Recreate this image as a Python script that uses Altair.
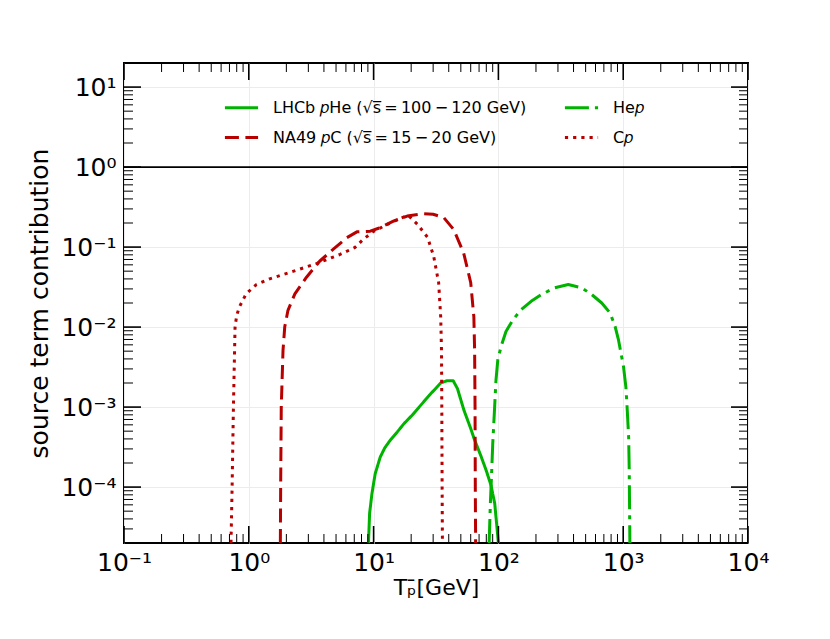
import math
import altair as alt
import pandas as pd

# ---------------- data ----------------
# LHCb pHe  (green solid)
lhcb_T = [9.1, 9.29, 9.7, 10.3, 11.3, 12.3, 13.6, 15.5, 17.5, 20.5, 23.8, 28.5, 34.5, 39.0, 43.4, 47.0, 53.0, 60.0, 64.0, 72.8, 80.0, 87.3, 93.5, 100.0]
lhcb_v = [2e-5, 4.7e-5, 8.3e-5, 1.47e-4, 2.37e-4, 3.1e-4, 3.85e-4, 4.9e-4, 6.2e-4, 8.0e-4, 1.05e-3, 1.45e-3, 2.0e-3, 2.14e-3, 2.14e-3, 1.7e-3, 9.1e-4, 5.4e-4, 4.0e-4, 2.4e-4, 1.6e-4, 1.05e-4, 6.2e-5, 2e-5]

# NA49 pC  (red dashed)
na49_T = [1.79, 1.80, 1.82, 1.88, 1.94, 2.06, 2.34, 2.9, 3.71, 4.76, 6.1, 7.35, 9.4, 11.3, 14.4, 18.6, 25.0, 30.0, 36.5, 43.8, 52.6, 60.0, 63.6, 64.5, 65.0, 65.3, 65.7]
na49_v = [2e-5, 1e-4, 1e-3, 0.0051, 0.01, 0.0162, 0.026, 0.042, 0.067, 0.094, 0.131, 0.155, 0.158, 0.175, 0.211, 0.244, 0.261, 0.257, 0.234, 0.166, 0.085, 0.036, 0.0133, 0.005, 1e-3, 1e-4, 2e-5]

# He p  (green dash-dot)
hep_T = [84.3, 86.2, 88.4, 90.1, 93.0, 95.6, 98.9, 105, 115, 130.6, 152, 183, 221, 283, 363, 465, 560, 673, 786, 861, 917, 1006, 1051, 1071, 1106, 1118, 1124, 1131]
hep_v = [2e-5, 6.2e-5, 1.6e-4, 3.5e-4, 9.1e-4, 2.16e-3, 3.9e-3, 5.7e-3, 8.8e-3, 0.0123, 0.0165, 0.021, 0.0255, 0.031, 0.034, 0.031, 0.0255, 0.020, 0.015, 0.0102, 0.0069, 0.0032, 1.78e-3, 1.1e-3, 4.2e-4, 1.6e-4, 6.2e-5, 2e-5]

# C p  (red dotted)
cp_T = [0.72, 0.735, 0.753, 0.776, 0.80, 0.84, 0.90, 0.953, 1.05, 1.15, 1.47, 2.26, 3.52, 5.39, 7.1, 8.26, 10.0, 12.9, 16.4, 19.0, 22.5, 27.1, 30.3, 33.2, 34.5, 35.0, 35.2, 35.4, 35.6]
cp_v = [2e-5, 1e-4, 1e-3, 0.01, 0.014, 0.0178, 0.022, 0.026, 0.030, 0.034, 0.040, 0.0497, 0.0625, 0.081, 0.099, 0.125, 0.157, 0.192, 0.229, 0.249, 0.192, 0.132, 0.0766, 0.036, 0.0133, 0.0051, 1e-3, 1e-4, 2e-5]

# legend names (Vega fills the two legend columns column by column)
name_lhcb = "LHCb \U0001D45DHe (\u221As\u0305\u2009=\u2009100\u2009\u2212\u2009120  GeV)"
name_na49 = "NA49 \U0001D45DC (\u221As\u0305\u2009=\u200915\u2009\u2212\u200920  GeV)"
name_hep = "He\U0001D45D"
name_cp = "C\U0001D45D"
series_names = [name_lhcb, name_na49, name_hep, name_cp]
series_colors = ["#00b300", "#b80000", "#00b300", "#b80000"]
series_dash = [[1, 0], [14, 6.5], [24, 6, 4, 6], [3.2, 5]]

x_tick_values = [0.1, 1, 10, 100, 1000, 10000]
x_tick_labels = ["10\u207b\u00b9", "10\u2070", "10\u00b9", "10\u00b2", "10\u00b3", "10\u2074"]
y_tick_values = [1e-4, 1e-3, 1e-2, 1e-1, 1, 10]
y_tick_labels = ["10\u207b\u2074", "10\u207b\u00b3", "10\u207b\u00b2", "10\u207b\u00b9", "10\u2070", "10\u00b9"]

x_minor = [m * 10.0 ** e for e in range(-1, 4) for m in range(2, 10)]
y_minor = [m * 10.0 ** e for e in range(-5, 2) for m in range(2, 10) if 2e-5 <= m * 10.0 ** e < 20]

W, H = 624, 480
FONT = "DejaVu Sans"

rows = []
for name, xs, ys in [(name_lhcb, lhcb_T, lhcb_v), (name_na49, na49_T, na49_v),
                     (name_hep, hep_T, hep_v), (name_cp, cp_T, cp_v)]:
    for i, (a, b) in enumerate(zip(xs, ys)):
        rows.append({"T": a, "v": b, "series": name, "idx": i})
df = pd.DataFrame(rows)


def label_expr(vals, labels):
    e = "round(log(datum.value)/LN10)"
    parts = ""
    for v, l in zip(vals, labels):
        parts += f"{e} == {round(math.log10(v))} ? '{l}' : "
    return parts + "''"


xscale = alt.Scale(type="log", domain=[0.1, 1e4])
yscale = alt.Scale(type="log", domain=[2e-5, 20])

xaxis = alt.Axis(
    values=x_tick_values, labelExpr=label_expr(x_tick_values, x_tick_labels),
    title="T\u209a\u0304[GeV]", ticks=False, domain=False, grid=True,
    gridColor="#ececec", gridWidth=1, labelFontSize=25, labelPadding=7,
    labelFlush=False, labelOverlap=False, labelBound=False,
    titleFontSize=22, titleFontWeight="normal", titlePadding=2)
yaxis = alt.Axis(
    values=y_tick_values, labelExpr=label_expr(y_tick_values, y_tick_labels),
    title="source term contribution", ticks=False, domain=False, grid=True,
    gridColor="#ececec", gridWidth=1, labelFontSize=25, labelPadding=8,
    labelFlush=False, labelOverlap=False, labelBound=False,
    titleFontSize=25, titleFontWeight="normal", titlePadding=8)

leg = alt.Legend(
    title=None, orient="none", legendX=99, legendY=26, columns=2,
    columnPadding=26, rowPadding=3, symbolType="stroke", symbolStrokeWidth=3,
    symbolSize=1100, labelFontSize=16, labelFont=FONT, labelLimit=500,
    labelOffset=13, padding=0, labelColor="black",
)

curves = alt.Chart(df).mark_line(strokeWidth=3, clip=True, strokeJoin="round").encode(
    x=alt.X("T:Q", scale=xscale, axis=xaxis),
    y=alt.Y("v:Q", scale=yscale, axis=yaxis),
    color=alt.Color("series:N", scale=alt.Scale(domain=series_names, range=series_colors), legend=leg),
    strokeDash=alt.StrokeDash("series:N", scale=alt.Scale(domain=series_names, range=series_dash), legend=leg),
    order="idx:Q",
)

unity = alt.Chart(pd.DataFrame({"v": [1.0]})).mark_rule(color="black", strokeWidth=1.8).encode(
    y=alt.Y("v:Q", scale=yscale, axis=yaxis))


def xticks(vals, length, width, top):
    c = alt.Chart(pd.DataFrame({"T": vals})).mark_rule(color="black", strokeWidth=width)
    if top:
        return c.encode(x=alt.X("T:Q", scale=xscale, axis=xaxis), y=alt.value(0), y2=alt.value(length))
    return c.encode(x=alt.X("T:Q", scale=xscale, axis=xaxis), y=alt.value(H), y2=alt.value(H - length))


def yticks(vals, length, width, right):
    c = alt.Chart(pd.DataFrame({"v": vals})).mark_rule(color="black", strokeWidth=width)
    if right:
        return c.encode(y=alt.Y("v:Q", scale=yscale, axis=yaxis), x=alt.value(W), x2=alt.value(W - length))
    return c.encode(y=alt.Y("v:Q", scale=yscale, axis=yaxis), x=alt.value(0), x2=alt.value(length))


tick_layers = []
for top in (False, True):
    tick_layers.append(xticks(x_minor, 9, 1, top))
    tick_layers.append(xticks(x_tick_values, 17, 1.6, top))
for right in (False, True):
    tick_layers.append(yticks(y_minor, 9, 1, right))
    tick_layers.append(yticks(y_tick_values, 17, 1.6, right))

chart = alt.layer(curves, unity, *tick_layers).properties(
    width=W, height=H, autosize="none",
    padding={"left": 116, "top": 55, "right": 66, "bottom": 88},
).configure_view(stroke="black", strokeWidth=2).configure_axis(
    labelFont=FONT, titleFont=FONT, labelColor="black", titleColor="black")

chart.save("out.html", embed_options={"renderer": "svg", "actions": False})
